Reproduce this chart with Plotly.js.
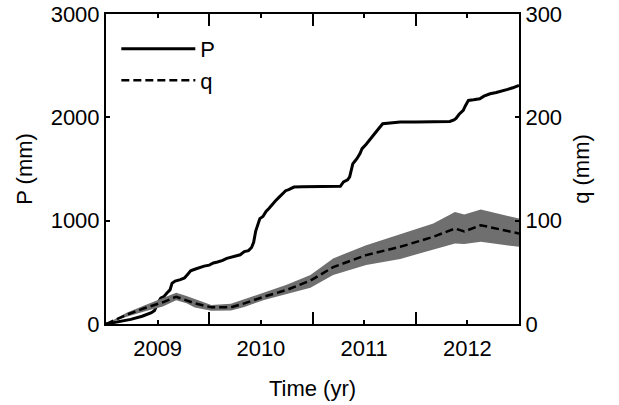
<!DOCTYPE html>
<html>
<head>
<meta charset="utf-8">
<script src="https://cdn.plot.ly/plotly-3.0.1.min.js"></script>
<style>html,body{margin:0;padding:0;background:#fff;}#chart{width:619px;height:405px;}</style>
</head>
<body>
<div id="chart"></div>
<script>
// Cumulative precipitation P (mm), left axis
var tP = [2009.0, 2009.1, 2009.24, 2009.35, 2009.44, 2009.47, 2009.50, 2009.53, 2009.56, 2009.59, 2009.62, 2009.64, 2009.67, 2009.72, 2009.76, 2009.79, 2009.82, 2009.86, 2009.90, 2009.95, 2010.0, 2010.04, 2010.08, 2010.13, 2010.17, 2010.21, 2010.26, 2010.30, 2010.34, 2010.38, 2010.41, 2010.43, 2010.45, 2010.47, 2010.49, 2010.52, 2010.55, 2010.58, 2010.61, 2010.64, 2010.67, 2010.71, 2010.74, 2010.77, 2010.82, 2010.9, 2011.27, 2011.30, 2011.34, 2011.36, 2011.39, 2011.41, 2011.43, 2011.46, 2011.48, 2011.52, 2011.56, 2011.60, 2011.64, 2011.68, 2011.85, 2012.0, 2012.33, 2012.37, 2012.39, 2012.42, 2012.46, 2012.48, 2012.51, 2012.56, 2012.62, 2012.66, 2012.72, 2012.78, 2012.84, 2012.89, 2012.94, 2013.0];
var P  = [0, 20, 45, 75, 110, 130, 200, 250, 265, 300, 330, 395, 415, 430, 445, 480, 515, 530, 545, 560, 570, 590, 600, 615, 635, 645, 660, 670, 700, 710, 740, 790, 900, 970, 1020, 1040, 1090, 1120, 1160, 1190, 1220, 1260, 1290, 1300, 1325, 1328, 1333, 1375, 1395, 1423, 1550, 1575, 1600, 1650, 1697, 1740, 1794, 1840, 1890, 1938, 1955, 1955, 1960, 1975, 1990, 2030, 2067, 2110, 2164, 2170, 2180, 2205, 2228, 2240, 2254, 2270, 2286, 2309];
// Cumulative discharge q (mm), right axis, with uncertainty band
var tq    = [2009.0, 2009.2, 2009.37, 2009.55, 2009.68, 2009.78, 2009.86, 2010.02, 2010.21, 2010.34, 2010.53, 2010.75, 2010.98, 2011.2, 2011.52, 2011.85, 2012.17, 2012.38, 2012.47, 2012.63, 2013.0];
var q     = [0, 9, 15.2, 21, 26.4, 23, 20, 16.1, 16.1, 20, 26.4, 33, 42, 55, 66.7, 74.7, 84.4, 92.4, 89.5, 95.6, 87.6];
var qLow  = [0, 7, 12, 17, 23, 20, 16, 12.9, 13, 16.5, 23.2, 29, 35, 47.3, 57, 63, 72.2, 78, 77.3, 79.5, 74.7];
var qHigh = [0, 11, 18, 25, 30.3, 27, 24, 18.4, 19.5, 24, 30.3, 38, 47.3, 63.5, 76.3, 87, 97.3, 108.5, 106, 110.8, 102];
// Axis tick labels
var yearLabelPos = [2009.5, 2010.5, 2011.5, 2012.5];
var yearLabels = ['2009', '2010', '2011', '2012'];
var yearBounds = [2010, 2011, 2012];

var font = {family: 'Liberation Sans, Arial, sans-serif', size: 22, color: '#000'};

var traces = [
  {x: tq, y: qLow, yaxis: 'y2', mode: 'lines', line: {width: 0, color: '#6f6f6f'}, showlegend: false, hoverinfo: 'skip'},
  {x: tq, y: qHigh, yaxis: 'y2', mode: 'lines', fill: 'tonexty', fillcolor: '#6f6f6f', line: {width: 0, color: '#6f6f6f'}, showlegend: false, hoverinfo: 'skip'},
  {x: tP, y: P, name: 'P', legendgroup: 'P', mode: 'lines', line: {color: '#000', width: 3}},
  {x: tq, y: q, name: 'q', legendgroup: 'q', yaxis: 'y2', mode: 'lines', line: {color: '#000', width: 2.5, dash: '8px,4px'}}
];

var layout = {
  width: 619, height: 405,
  margin: {l: 106, r: 100, t: 14, b: 81},
  paper_bgcolor: '#fff', plot_bgcolor: '#fff',
  font: font,
  showlegend: true,
  legend: {x: 0.025, y: 0.955, xanchor: 'left', yanchor: 'top', bgcolor: 'rgba(0,0,0,0)', traceorder: 'normal', font: {family: font.family, size: 22}, itemwidth: 74, tracegroupgap: 8},
  xaxis: {
    range: [2009, 2013], showgrid: false, zeroline: false,
    showline: true, linecolor: '#000', linewidth: 2, mirror: 'ticks',
    tickmode: 'array', tickvals: yearLabelPos, ticktext: yearLabels,
    ticks: 'inside', ticklen: 4, tickwidth: 2, tickcolor: '#000', ticklabelstandoff: 4,
    minor: {tickmode: 'array', tickvals: yearBounds, ticks: 'inside', ticklen: 12, tickwidth: 2, tickcolor: '#000', showgrid: false},
    title: {text: 'Time (yr)', font: font, standoff: 20},
    tickfont: font
  },
  yaxis: {
    range: [0, 3000], tickvals: [0, 1000, 2000, 3000], showgrid: false, zeroline: false,
    showline: true, linecolor: '#000', linewidth: 2,
    ticks: 'inside', ticklen: 4, tickwidth: 2, tickcolor: '#000',
    title: {text: 'P (mm)', font: font, standoff: 12},
    tickfont: font
  },
  yaxis2: {
    range: [0, 300], tickvals: [0, 100, 200, 300], overlaying: 'y', side: 'right', showgrid: false, zeroline: false,
    showline: true, linecolor: '#000', linewidth: 2,
    ticks: 'inside', ticklen: 4, tickwidth: 2, tickcolor: '#000',
    title: {text: 'q (mm)', font: font, standoff: 12},
    tickfont: font
  }
};

Plotly.newPlot('chart', traces, layout, {displayModeBar: false, staticPlot: true});
</script>
</body>
</html>
